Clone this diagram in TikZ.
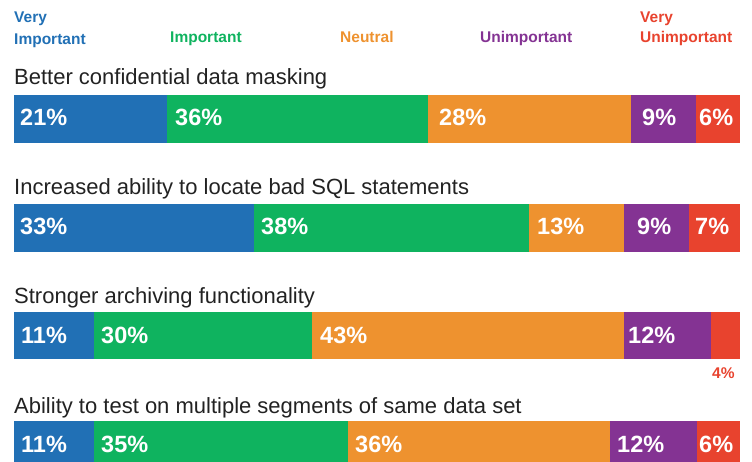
\documentclass[tikz,border=0pt]{standalone}
\usepackage{fontspec}
\setmainfont{Liberation Sans}
\definecolor{cblue}{HTML}{2170B5}
\definecolor{cgreen}{HTML}{0FB35F}
\definecolor{corange}{HTML}{EE922F}
\definecolor{cpurple}{HTML}{843393}
\definecolor{cred}{HTML}{E8432E}
\definecolor{titlegray}{HTML}{222222}
\begin{document}
\begin{tikzpicture}[x=1pt,y=-1pt,
  titletext/.style={anchor=base west, inner sep=0pt, text=titlegray, font=\fontsize{22}{24}\selectfont},
  pct/.style={anchor=base west, inner sep=0pt, text=white, font=\bfseries\fontsize{23.5}{24}\selectfont},
  legendtext/.style={anchor=base west, inner sep=0pt, font=\bfseries\fontsize{15.5}{18}\selectfont},
]
\useasboundingbox (0,0) rectangle (752,462);
\clip (0,0) rectangle (752,462);

% legend
\node[legendtext, text=cblue] (lvi1) at (14,23) {Very};
\node[legendtext, text=cblue] (lvi2) at (14,45) {Important};
\node[legendtext, text=cgreen] (li) at (170,43) {Important};
\node[legendtext, text=corange] (ln) at (340,43) {Neutral};
\node[legendtext, text=cpurple] (lu) at (480,43) {Unimportant};
\node[legendtext, text=cred] (lvu1) at (640,23) {Very};
\node[legendtext, text=cred] (lvu2) at (640,43) {Unimportant};

% bar 1
\node[titletext] (t1) at (14,85) {Better confidential data masking};
\fill[cblue]   (14,95)  rectangle (167,143);
\fill[cgreen]  (167,95) rectangle (428,143);
\fill[corange] (428,95) rectangle (631,143);
\fill[cpurple] (631,95) rectangle (696,143);
\fill[cred]    (696,95) rectangle (740,143);
\node[pct] (a1) at (20,126) {21\%};
\node[pct] (a2) at (175,126) {36\%};
\node[pct] (a3) at (439,126) {28\%};
\node[pct] (a4) at (642,126) {9\%};
\node[pct] (a5) at (699,126) {6\%};

% bar 2
\node[titletext] (t2) at (14,195) {Increased ability to locate bad SQL statements};
\fill[cblue]   (14,204)  rectangle (254,252);
\fill[cgreen]  (254,204) rectangle (529,252);
\fill[corange] (529,204) rectangle (624,252);
\fill[cpurple] (624,204) rectangle (689,252);
\fill[cred]    (689,204) rectangle (740,252);
\node[pct] (b1) at (20,235) {33\%};
\node[pct] (b2) at (261,235) {38\%};
\node[pct] (b3) at (537,235) {13\%};
\node[pct] (b4) at (637,235) {9\%};
\node[pct] (b5) at (695,235) {7\%};

% bar 3
\node[titletext] (t3) at (14,303) {Stronger archiving functionality};
\fill[cblue]   (14,312)  rectangle (94,359);
\fill[cgreen]  (94,312)  rectangle (312,359);
\fill[corange] (312,312) rectangle (624,359);
\fill[cpurple] (624,312) rectangle (711,359);
\fill[cred]    (711,312) rectangle (740,359);
\node[pct] (c1) at (21,343) {11\%};
\node[pct] (c2) at (101,343) {30\%};
\node[pct] (c3) at (320,343) {43\%};
\node[pct] (c4) at (628,343) {12\%};
\node[anchor=base west, inner sep=0pt, text=cred, font=\bfseries\fontsize{15.5}{16}\selectfont] (c5) at (712,378) {4\%};

% bar 4
\node[titletext] (t4) at (14,413) {Ability to test on multiple segments of same data set};
\fill[cblue]   (14,421)  rectangle (94,470);
\fill[cgreen]  (94,421)  rectangle (348,470);
\fill[corange] (348,421) rectangle (610,470);
\fill[cpurple] (610,421) rectangle (697,470);
\fill[cred]    (697,421) rectangle (740,470);
\node[pct] (d1) at (21,452) {11\%};
\node[pct] (d2) at (101,452) {35\%};
\node[pct] (d3) at (355,452) {36\%};
\node[pct] (d4) at (617,452) {12\%};
\node[pct] (d5) at (699,452) {6\%};
\end{tikzpicture}
\end{document}
